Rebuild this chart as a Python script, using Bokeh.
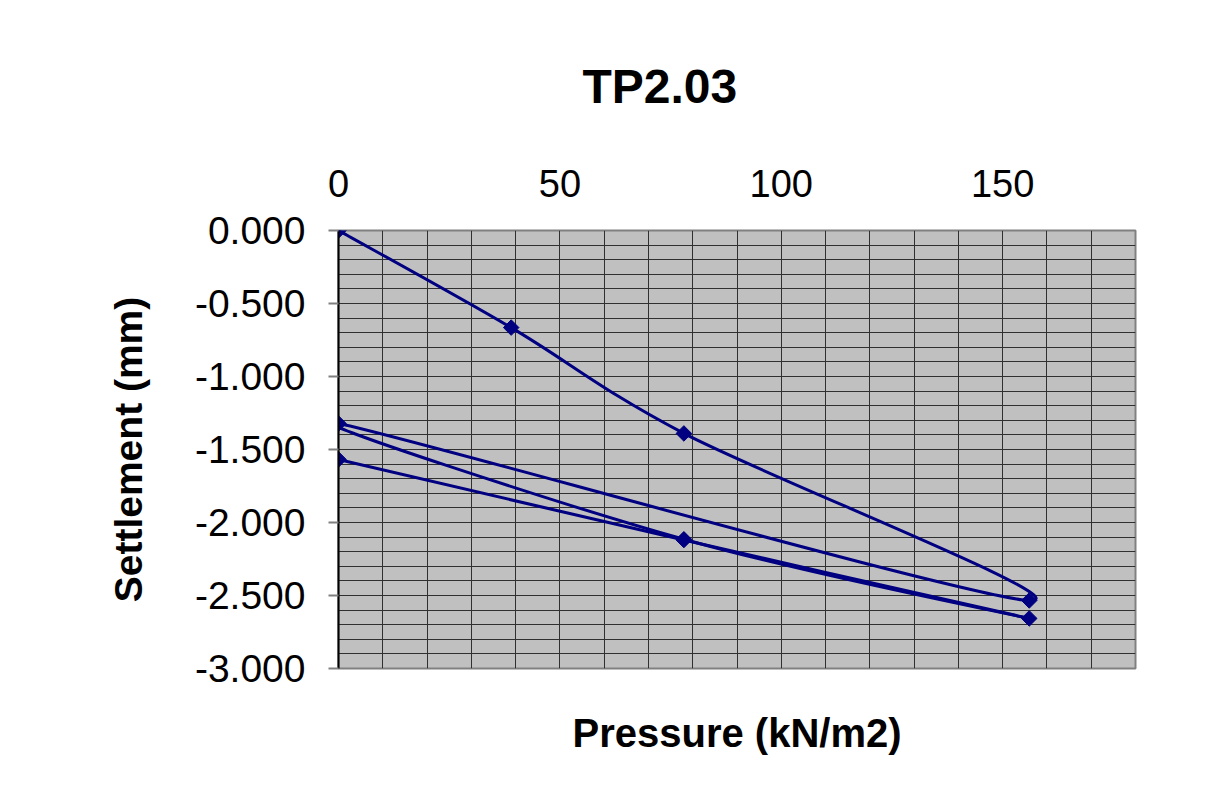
import numpy as np
from bokeh.plotting import figure
from bokeh.models import (LinearAxis, FixedTicker, PrintfTickFormatter, Range1d,
                          ColumnDataSource)
from bokeh.embed import file_html
from bokeh.resources import INLINE

# ---- data (load / unload cycle) ----
pressure = [0, 39, 78, 156, 0, 78, 156, 78, 0]
settlement = [0.000, -0.665, -1.390, -2.534, -1.322, -2.115, -2.657, -2.120, -1.568]

title_text = "TP2.03"
x_label = "Pressure (kN/m2)"
y_label = "Settlement (mm)"
x_ticks = [0, 50, 100, 150]
y_ticks = [0.0, -0.5, -1.0, -1.5, -2.0, -2.5, -3.0]

FONT = "Liberation Sans"
NAVY = "#000080"

p = figure(width=1197, height=783, output_backend="svg", toolbar_location=None,
           x_range=Range1d(0, 180), y_range=Range1d(-3.0, 0.0),
           x_axis_location="above",
           min_border_left=338, min_border_right=62,
           min_border_top=230, min_border_bottom=115)
p.background_fill_color = "#C0C0C0"
p.border_fill_color = "white"
p.outline_line_color = "#808080"
p.outline_line_width = 2

# title
p.title.text = title_text
p.title.text_font = FONT
p.title.text_font_size = "48px"
p.title.text_font_style = "bold"
p.title.text_color = "black"
p.title.align = "left"
p.title.offset = 244
p.title.standoff = 108

# grid
p.xgrid.ticker = FixedTicker(ticks=list(range(0, 181, 10)))
p.ygrid.ticker = FixedTicker(ticks=[-i / 10 for i in range(0, 31)])
p.xgrid.grid_line_color = "#303030"
p.ygrid.grid_line_color = "#303030"
p.xgrid.grid_line_width = 1
p.ygrid.grid_line_width = 1

# top x axis
xa = p.xaxis[0]
xa.ticker = FixedTicker(ticks=x_ticks)
xa.major_label_text_font = FONT
xa.major_label_text_font_size = "38px"
xa.major_label_text_color = "black"
xa.major_tick_out = 0
xa.major_tick_in = 0
xa.minor_tick_line_color = None
xa.axis_line_color = None
xa.major_label_standoff = 34

# y axis
ya = p.yaxis[0]
ya.ticker = FixedTicker(ticks=y_ticks)
ya.formatter = PrintfTickFormatter(format="%.3f")
ya.major_label_text_font = FONT
ya.major_label_text_font_size = "39px"
ya.major_label_text_color = "black"
ya.major_tick_out = 10
ya.major_tick_in = 0
ya.major_tick_line_color = "#808080"
ya.major_tick_line_width = 2
ya.minor_tick_line_color = None
ya.axis_line_color = "black"
ya.axis_line_width = 2
ya.major_label_standoff = 23
ya.axis_label = y_label
ya.axis_label_text_font = FONT
ya.axis_label_text_font_size = "39px"
ya.axis_label_text_font_style = "bold"
ya.axis_label_text_color = "black"
ya.axis_label_standoff = 42

# bottom axis carrying only the x label
xb = LinearAxis(ticker=FixedTicker(ticks=[]), axis_line_color=None,
                major_tick_line_color=None, minor_tick_line_color=None)
xb.axis_label = x_label
xb.axis_label_text_font = FONT
xb.axis_label_text_font_size = "40px"
xb.axis_label_text_font_style = "bold"
xb.axis_label_text_color = "black"
xb.axis_label_standoff = 42
p.add_layout(xb, "below")

# smoothed line (Catmull-Rom -> cubic Bezier, as in spreadsheet "smoothed line")
px = np.array(pressure, dtype=float)
py = np.array(settlement, dtype=float)
n = len(px)
x0, y0, x1, y1, cx0, cy0, cx1, cy1 = ([] for _ in range(8))
for i in range(n - 1):
    im1 = max(i - 1, 0)
    ip2 = min(i + 2, n - 1)
    x0.append(px[i]); y0.append(py[i])
    x1.append(px[i + 1]); y1.append(py[i + 1])
    cx0.append(px[i] + (px[i + 1] - px[im1]) / 6)
    cy0.append(py[i] + (py[i + 1] - py[im1]) / 6)
    cx1.append(px[i + 1] - (px[ip2] - px[i]) / 6)
    cy1.append(py[i + 1] - (py[ip2] - py[i]) / 6)
bsrc = ColumnDataSource(dict(x0=x0, y0=y0, x1=x1, y1=y1,
                             cx0=cx0, cy0=cy0, cx1=cx1, cy1=cy1))
p.bezier(x0="x0", y0="y0", x1="x1", y1="y1", cx0="cx0", cy0="cy0",
         cx1="cx1", cy1="cy1", source=bsrc, line_color=NAVY, line_width=3)

p.scatter(pressure, settlement, marker="square", size=11, angle=np.pi / 4,
          fill_color=NAVY, line_color=NAVY)

open("out.html", "w").write(file_html(p, INLINE))
